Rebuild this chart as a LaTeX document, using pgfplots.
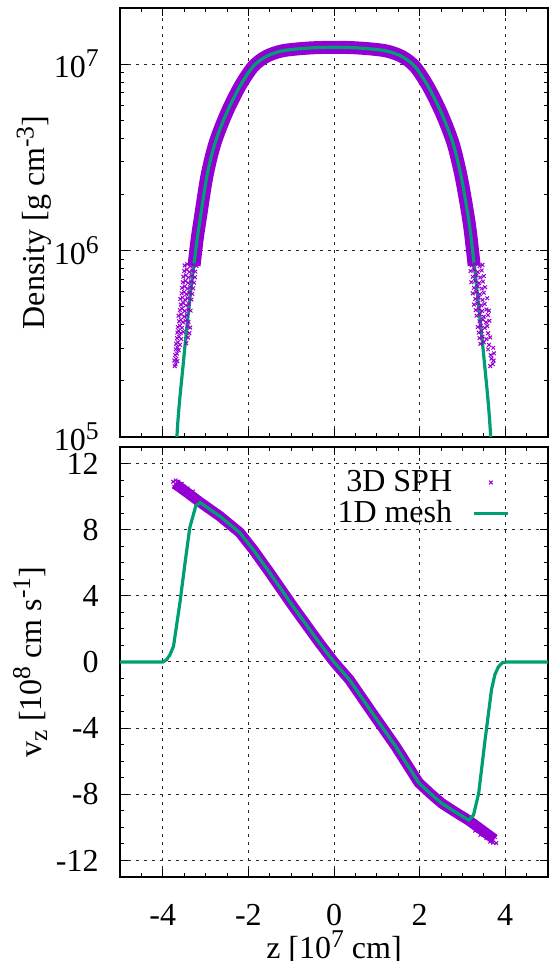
\documentclass[border=0pt]{standalone}
\usepackage{fontspec}
\setmainfont{Liberation Serif}
\usepackage{pgfplots}
\pgfplotsset{compat=1.18}
\definecolor{sphcol}{HTML}{9400D3}
\definecolor{meshcol}{HTML}{009E73}
\newcommand\fs{\fontsize{16}{19}\selectfont}
\newcommand\sups[1]{\raisebox{5.5pt}{\fontsize{12.8}{14}\selectfont #1}}
\newcommand\subs[1]{\raisebox{-3pt}{\fontsize{12.8}{14}\selectfont #1}}

\pgfplotsset{
  panel/.style={
    width=214pt, scale only axis,
    xmin=-5, xmax=5,
    xtick={-4,-2,0,2,4},
    minor xtick={-5,-4.5,...,5},
    tick align=inside,
    major tick length=4pt, minor tick length=2pt,
    every tick/.style={black, line width=0.5pt},
    axis line style={line width=1.4pt},
    grid=major,
    major grid style={black!85, line width=0.5pt, dash pattern=on 1.5pt off 2.5pt},
    xticklabel style={font=\fs, anchor=base, inner sep=0pt, yshift=-24pt},
    yticklabel style={font=\fs, anchor=east, inner sep=0pt, xshift=-10.5pt},
    every axis y label/.style={at={(axis description cs:0,0.5)}, rotate=90, anchor=center, font=\fs},
    every axis x label/.style={at={(axis description cs:0.5,0)}, anchor=base, font=\fs, yshift=-40.5pt},
  }
}

\begin{document}
\begin{tikzpicture}
% ---------------- bottom panel: velocity ----------------
\begin{axis}[panel, at={(0pt,0pt)}, anchor=south west, height=215pt,
  ymin=-13, ymax=13,
  ytick={-12,-8,-4,0,4,8,12},
  minor ytick={-13,-12,...,13},
  /pgf/number format/assume math mode=true,
  ylabel={v\subs{z} [10\sups{8} cm s\sups{-1}]},
  ylabel style={yshift=45pt},
  xlabel={z [10\sups{7} cm]},
  legend style={draw=none, fill=none, font=\fs, at={(0.925,0.965)}, anchor=north east, row sep=-1pt, column sep=8pt},
  legend cell align=right,
  legend plot pos=right,
]
\addplot[sphcol, line width=5.25pt, forget plot] coordinates {
(-3.72,10.78) (-3.45,10.28) (-3.13,9.66) (-2.67,8.82) (-2.20,7.82) (-1.89,6.8)
(-1.50,5.39) (-0.96,3.37) (-0.34,1.15) (0,0) (0.36,-1.07) (0.90,-3.1)
(1.44,-5.1) (1.98,-7.3) (2.25,-7.95) (2.52,-8.55) (2.85,-9.1) (3.15,-9.58)
(3.45,-10.15) (3.75,-10.72)
};
\addplot[sphcol, only marks, mark=x, mark size=1.3pt, mark options={line width=0.5pt}] coordinates {
(-3.76,10.9) (-3.70,10.98) (-3.64,10.9) (-3.73,10.6) (-3.62,10.55) (-3.56,10.78)
(-3.50,10.6) (-3.42,10.5) (-3.36,10.1) (-3.30,10.3) (-3.24,9.92) (-3.66,10.7)
(3.79,-10.95) (3.72,-10.92) (3.65,-10.86) (3.76,-10.58) (3.62,-10.45) (3.56,-10.65)
(3.50,-10.38) (3.42,-10.45) (3.36,-10.0) (3.30,-10.2) (3.24,-9.8) (3.70,-10.75)
};
\addlegendentry{3D SPH}
\addplot[meshcol, line width=1.6pt] coordinates {
(-5,0) (-4.0,0) (-3.91,0.14) (-3.83,0.45) (-3.75,0.95) (-3.60,3.58) (-3.48,6.0)
(-3.37,8.12) (-3.23,9.43) (-3.13,9.64) (-2.67,8.82) (-2.20,7.82) (-1.89,6.8)
(-1.50,5.39) (-0.96,3.37) (-0.34,1.15) (0,0) (0.36,-1.07) (0.90,-3.1)
(1.44,-5.1) (1.98,-7.3) (2.25,-7.95) (2.52,-8.55) (2.85,-9.1) (3.15,-9.56)
(3.26,-9.25) (3.38,-7.94) (3.53,-4.7) (3.68,-1.67) (3.76,-0.75) (3.84,-0.3)
(3.93,-0.05) (4.03,0) (5,0)
};
\addlegendentry{1D mesh}
\end{axis}

% ---------------- top panel: density ----------------
\begin{axis}[panel, at={(0pt,220pt)}, anchor=south west, height=214.5pt,
  ymode=log, ymin=1e5, ymax=2e7,
  ytick={1e5,1e6,1e7},
  yticklabels={10\sups{5},10\sups{6},10\sups{7}},
  xticklabels={},
  ylabel={Density [g cm\sups{-3}]},
  ylabel style={yshift=43pt},
]
\addplot[sphcol, line width=6.5pt, smooth, forget plot] coordinates {
(-3.27,8.3e5) (-3.20,1.14e6) (-3.13,1.46e6) (-2.97,2.5e6) (-2.78,3.77e6)
(-2.51,5.46e6) (-2.20,7.59e6) (-1.89,9.7e6) (-1.58,1.1e7) (-1.19,1.18e7)
(-0.57,1.22e7) (0,1.23e7) (0.57,1.22e7) (1.19,1.18e7) (1.58,1.1e7)
(1.89,9.7e6) (2.20,7.59e6) (2.51,5.46e6) (2.78,3.77e6) (2.97,2.5e6)
(3.12,1.6e6) (3.19,1.24e6) (3.275,8.3e5)
};
\addplot[sphcol, only marks, mark=x, mark size=1.3pt, mark options={line width=0.5pt}] coordinates {
(-3.72,2.40e5) (-3.70,2.45e5)
(-3.73,2.57e5) (-3.69,2.62e5) (-3.66,2.55e5)
(-3.71,2.75e5) (-3.67,2.80e5)
(-3.70,2.95e5) (-3.66,3.02e5) (-3.63,2.92e5)
(-3.69,3.16e5) (-3.65,3.22e5) (-3.60,3.12e5) (-3.45,3.18e5)
(-3.67,3.39e5) (-3.62,3.45e5) (-3.57,3.35e5) (-3.41,3.42e5)
(-3.66,3.63e5) (-3.63,3.70e5) (-3.58,3.60e5) (-3.52,3.66e5) (-3.38,3.60e5)
(-3.65,3.89e5) (-3.60,3.95e5) (-3.55,3.85e5) (-3.42,3.92e5) (-3.36,3.86e5)
(-3.62,4.17e5) (-3.58,4.25e5) (-3.53,4.12e5) (-3.47,4.20e5) (-3.40,4.14e5)
(-3.63,4.47e5) (-3.57,4.55e5) (-3.50,4.42e5) (-3.44,4.50e5)
(-3.60,4.79e5) (-3.55,4.88e5) (-3.49,4.74e5) (-3.40,4.83e5) (-3.35,4.76e5)
(-3.58,5.13e5) (-3.52,5.22e5) (-3.46,5.08e5) (-3.39,5.17e5)
(-3.59,5.50e5) (-3.54,5.60e5) (-3.48,5.44e5) (-3.42,5.55e5) (-3.33,5.46e5)
(-3.56,5.89e5) (-3.50,5.99e5) (-3.45,5.83e5) (-3.38,5.94e5) (-3.31,5.85e5)
(-3.55,6.31e5) (-3.49,6.42e5) (-3.43,6.25e5) (-3.36,6.36e5) (-3.29,6.27e5)
(-3.53,6.76e5) (-3.47,6.88e5) (-3.41,6.70e5) (-3.34,6.82e5) (-3.27,6.72e5)
(-3.52,7.24e5) (-3.46,7.36e5) (-3.40,7.17e5) (-3.33,7.30e5) (-3.25,7.19e5)
(-3.50,7.76e5) (-3.44,7.90e5) (-3.38,7.68e5) (-3.31,7.82e5) (-3.24,7.71e5)
(-3.49,8.32e5) (-3.43,8.45e5) (-3.36,8.24e5) (-3.29,8.38e5) (-3.21,8.27e5)
(3.65,2.40e5) (3.71,2.46e5)
(3.73,2.57e5) (3.68,2.63e5)
(3.66,2.75e5) (3.74,2.81e5)
(3.60,2.95e5) (3.72,3.01e5)
(3.42,3.16e5) (3.50,3.22e5) (3.62,3.12e5)
(3.40,3.39e5) (3.47,3.45e5) (3.56,3.35e5) (3.65,3.42e5)
(3.38,3.63e5) (3.45,3.70e5) (3.60,3.60e5)
(3.36,3.89e5) (3.43,3.95e5) (3.52,3.85e5) (3.58,3.93e5)
(3.40,4.17e5) (3.48,4.25e5) (3.55,4.12e5) (3.63,4.20e5)
(3.33,4.47e5) (3.41,4.55e5) (3.50,4.42e5) (3.60,4.50e5)
(3.31,4.79e5) (3.38,4.88e5) (3.46,4.74e5) (3.56,4.83e5) (3.62,4.76e5)
(3.27,5.13e5) (3.35,5.22e5) (3.44,5.08e5) (3.52,5.17e5)
(3.30,5.50e5) (3.38,5.60e5) (3.47,5.44e5) (3.58,5.55e5)
(3.24,5.89e5) (3.32,5.99e5) (3.41,5.83e5) (3.50,5.94e5)
(3.27,6.31e5) (3.36,6.42e5) (3.45,6.25e5) (3.53,6.36e5)
(3.21,6.76e5) (3.30,6.88e5) (3.39,6.70e5) (3.48,6.82e5)
(3.24,7.24e5) (3.33,7.36e5) (3.42,7.17e5) (3.50,7.30e5)
(3.19,7.76e5) (3.27,7.90e5) (3.36,7.68e5) (3.45,7.82e5)
(3.22,8.32e5) (3.30,8.45e5) (3.40,8.24e5) (3.47,8.38e5)
};
\addplot[meshcol, line width=1.6pt, smooth] coordinates {
(-3.76,2e4) (-3.67,1.0e5) (-3.52,2.5e5) (-3.36,5.7e5) (-3.20,1.14e6)
(-3.13,1.46e6) (-2.97,2.5e6) (-2.78,3.77e6) (-2.51,5.46e6) (-2.20,7.59e6)
(-1.89,9.7e6) (-1.58,1.1e7) (-1.19,1.18e7) (-0.57,1.22e7) (0,1.23e7)
(0.57,1.22e7) (1.19,1.18e7) (1.58,1.1e7) (1.89,9.7e6) (2.20,7.59e6)
(2.51,5.46e6) (2.78,3.77e6) (2.97,2.5e6) (3.12,1.6e6) (3.19,1.24e6)
(3.34,6.15e5) (3.50,2.7e5) (3.66,1.0e5) (3.75,2e4)
};
\end{axis}
\pgfresetboundingbox
\path (-60pt,-42pt) rectangle (215.5pt,438.5pt);
\end{tikzpicture}
\end{document}
